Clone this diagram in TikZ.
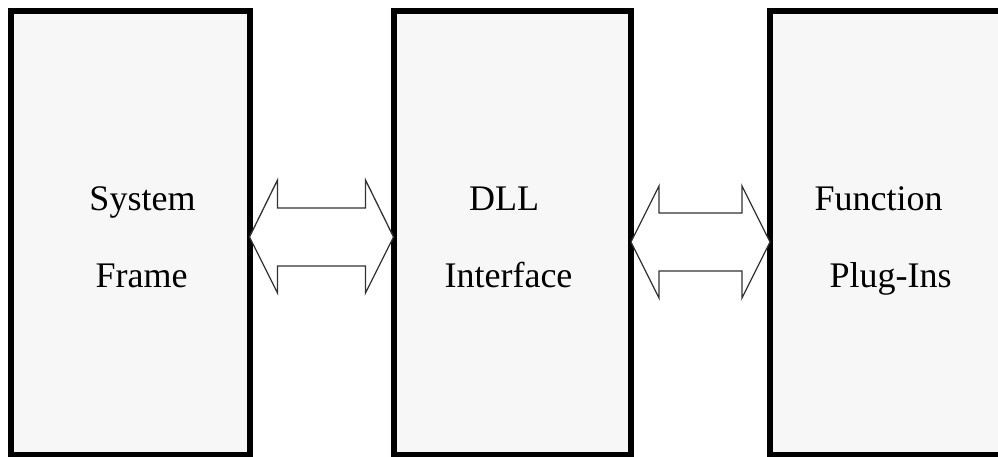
\documentclass[tikz,border=0pt]{standalone}
\usepackage{fontspec}
\setmainfont{Liberation Serif}
\usetikzlibrary{calc}
\definecolor{panel}{HTML}{F7F7F7}
\definecolor{arrowline}{HTML}{333333}
\tikzset{
  block/.style={draw=black, line width=6pt, fill=panel, rectangle,
    outer sep=0pt, inner sep=0pt, minimum height=443pt},
  label/.style={anchor=base, inner sep=0pt, font=\fontsize{36}{40}\selectfont},
  twoway/.style={draw=arrowline, line width=1.3pt, fill=white, line join=miter}
}
\begin{document}
\begin{tikzpicture}[x=1pt, y=-1pt]
  \useasboundingbox (0,0) rectangle (998,457);

  % the three blocks
  \node[block, minimum width=238.5pt] (sys) at (130.25,233) {};
  \node[block, minimum width=237.5pt] (dll) at (512.25,233) {};
  \node[block, minimum width=240pt]   (plug) at (890,233) {};

  % block captions
  \node[label] (sysA) at (142.5,211) {System};
  \node[label] (sysB) at (141.5,287) {Frame};
  \node[label] (dllA) at (504,211) {DLL};
  \node[label] (dllB) at (508.5,287) {Interface};
  \node[label] (plugA) at (878.5,211) {Function};
  \node[label] (plugB) at (890.5,287) {Plug-Ins};

  % tips of the two-way arrows on the block edges
  \coordinate (ya) at (0,237);
  \coordinate (yb) at (0,242);
  \coordinate (aL) at (sys.east |- ya);
  \coordinate (aR) at (dll.west |- ya);
  \coordinate (bL) at (dll.east |- yb);
  \coordinate (bR) at (plug.west |- yb);

  % two-way arrow between System Frame and DLL Interface
  \draw[twoway] (aL) -- ($(aL)+(28,-57)$) -- ($(aL)+(28,-29)$)
    -- ($(aR)+(-28,-29)$) -- ($(aR)+(-28,-57)$) -- (aR)
    -- ($(aR)+(-28,56)$) -- ($(aR)+(-28,29)$)
    -- ($(aL)+(28,29)$) -- ($(aL)+(28,56)$) -- cycle;

  % two-way arrow between DLL Interface and Function Plug-Ins
  \draw[twoway] (bL) -- ($(bL)+(28,-56)$) -- ($(bL)+(28,-29)$)
    -- ($(bR)+(-28,-29)$) -- ($(bR)+(-28,-56)$) -- (bR)
    -- ($(bR)+(-28,56)$) -- ($(bR)+(-28,29)$)
    -- ($(bL)+(28,29)$) -- ($(bL)+(28,56)$) -- cycle;
\end{tikzpicture}
\end{document}
